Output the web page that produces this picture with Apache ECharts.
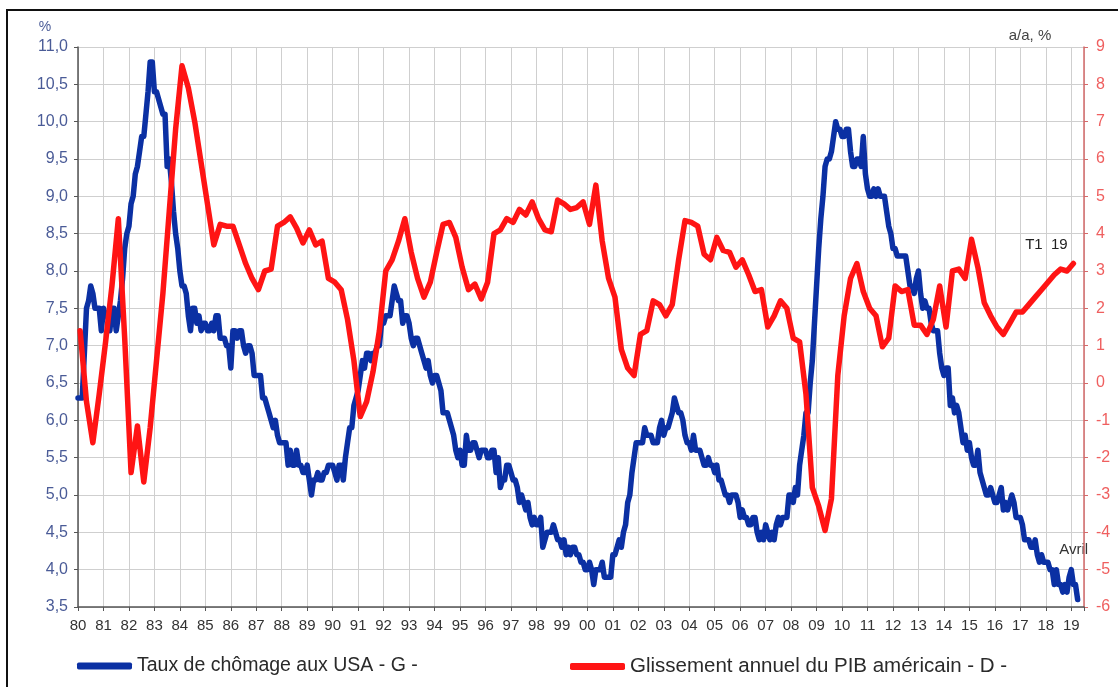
<!DOCTYPE html>
<html>
<head>
<meta charset="utf-8">
<script src="https://cdn.jsdelivr.net/npm/echarts@6/dist/echarts.min.js"></script>
<style>
html,body{margin:0;padding:0;background:#fff;}
#c{width:1118px;height:687px;}
</style>
</head>
<body>
<div id="c"></div>
<script>
// Taux de chômage USA, mensuel, janv. 1980 -> avril 2019 (%)
const chomage = [
6.3,6.3,6.3,6.9,7.5,7.6,7.8,7.7,7.5,7.5,7.5,7.2,
7.5,7.4,7.4,7.2,7.5,7.5,7.2,7.4,7.6,7.9,8.3,8.5,
8.6,8.9,9.0,9.3,9.4,9.6,9.8,9.8,10.1,10.4,10.8,10.8,
10.4,10.4,10.3,10.2,10.1,10.1,9.4,9.5,9.2,8.8,8.5,8.3,
8.0,7.8,7.8,7.7,7.4,7.2,7.5,7.5,7.3,7.4,7.2,7.3,
7.3,7.2,7.2,7.3,7.2,7.4,7.4,7.1,7.1,7.1,7.0,7.0,
6.7,7.2,7.2,7.1,7.2,7.2,7.0,6.9,7.0,7.0,6.9,6.6,
6.6,6.6,6.6,6.3,6.3,6.2,6.1,6.0,5.9,6.0,5.8,5.7,
5.7,5.7,5.7,5.4,5.6,5.4,5.4,5.6,5.4,5.4,5.3,5.3,
5.4,5.2,5.0,5.2,5.2,5.3,5.2,5.2,5.3,5.3,5.4,5.4,
5.4,5.3,5.2,5.4,5.4,5.2,5.5,5.7,5.9,5.9,6.2,6.3,
6.4,6.6,6.8,6.7,6.9,6.9,6.8,6.9,6.9,7.0,7.0,7.3,
7.3,7.4,7.4,7.4,7.6,7.8,7.7,7.6,7.6,7.3,7.4,7.4,
7.3,7.1,7.0,7.1,7.1,7.0,6.9,6.8,6.7,6.8,6.6,6.5,
6.6,6.6,6.5,6.4,6.1,6.1,6.1,6.0,5.9,5.8,5.6,5.5,
5.6,5.4,5.4,5.8,5.6,5.6,5.7,5.7,5.6,5.5,5.6,5.6,
5.6,5.5,5.5,5.6,5.6,5.3,5.5,5.1,5.2,5.2,5.4,5.4,
5.3,5.2,5.2,5.1,4.9,5.0,4.9,4.8,4.9,4.7,4.6,4.7,
4.6,4.6,4.7,4.3,4.4,4.5,4.5,4.5,4.6,4.5,4.4,4.4,
4.3,4.4,4.2,4.3,4.2,4.3,4.3,4.2,4.2,4.1,4.1,4.0,
4.0,4.1,4.0,3.8,4.0,4.0,4.0,4.1,3.9,3.9,3.9,3.9,
4.2,4.2,4.3,4.4,4.3,4.5,4.6,4.9,5.0,5.3,5.5,5.7,
5.7,5.7,5.7,5.9,5.8,5.8,5.8,5.7,5.7,5.7,5.9,6.0,
5.8,5.9,5.9,6.0,6.1,6.3,6.2,6.1,6.1,6.0,5.8,5.7,
5.7,5.6,5.8,5.6,5.6,5.6,5.5,5.4,5.4,5.5,5.4,5.4,
5.3,5.4,5.2,5.2,5.1,5.0,5.0,4.9,5.0,5.0,5.0,4.9,
4.7,4.8,4.7,4.7,4.6,4.6,4.7,4.7,4.5,4.4,4.5,4.4,
4.6,4.5,4.4,4.5,4.4,4.6,4.7,4.6,4.7,4.7,4.7,5.0,
5.0,4.9,5.1,5.0,5.4,5.6,5.8,6.1,6.1,6.5,6.8,7.3,
7.8,8.3,8.7,9.0,9.4,9.5,9.5,9.6,9.8,10.0,9.9,9.9,
9.8,9.8,9.9,9.9,9.6,9.4,9.4,9.5,9.5,9.4,9.8,9.3,
9.1,9.0,9.0,9.1,9.0,9.1,9.0,9.0,9.0,8.8,8.6,8.5,
8.3,8.3,8.2,8.2,8.2,8.2,8.2,8.0,7.8,7.8,7.7,7.9,
8.0,7.7,7.5,7.6,7.5,7.5,7.3,7.2,7.2,7.2,6.9,6.7,
6.6,6.7,6.7,6.2,6.3,6.1,6.2,6.1,5.9,5.7,5.8,5.6,
5.7,5.5,5.4,5.4,5.6,5.3,5.2,5.1,5.0,5.0,5.1,5.0,
4.9,4.9,5.0,5.1,4.8,4.9,4.8,4.9,5.0,4.9,4.7,4.7,
4.7,4.6,4.4,4.4,4.4,4.3,4.3,4.4,4.2,4.1,4.2,4.1,
4.1,4.1,4.0,4.0,3.8,4.0,3.8,3.8,3.7,3.8,3.7,3.9,
4.0,3.8,3.8,3.6
];
// Glissement annuel du PIB américain, trimestriel, T1 1980 -> T1 2019 (a/a, %)
const pib = [
1.4,-0.5,-1.6,-0.3,
1.1,2.6,4.4,1.2,
-2.4,-1.15,-2.65,-1.2,
0.6,2.4,4.6,6.8,
8.5,7.9,7.0,5.9,
4.8,3.7,4.25,4.2,
4.2,3.7,3.2,2.8,
2.5,3.0,3.05,4.2,
4.3,4.45,4.15,3.75,
4.1,3.7,3.8,2.8,
2.7,2.5,1.7,0.6,
-0.9,-0.5,0.3,1.4,
3.0,3.3,3.8,4.4,
3.5,2.8,2.3,2.7,
3.5,4.25,4.3,3.9,
3.1,2.5,2.65,2.25,
2.7,4.0,4.1,4.4,
4.3,4.65,4.5,4.85,
4.4,4.1,4.05,4.9,
4.8,4.65,4.7,4.85,
4.25,5.3,3.8,2.8,
2.3,0.9,0.4,0.2,
1.3,1.4,2.2,2.1,
1.8,2.1,3.3,4.35,
4.3,4.2,3.45,3.3,
3.9,3.55,3.5,3.1,
3.3,2.9,2.45,2.5,
1.5,1.8,2.2,2.0,
1.2,1.1,-0.3,-2.8,
-3.3,-3.95,-3.1,0.2,
1.8,2.8,3.2,2.45,
2.0,1.8,0.97,1.2,
2.6,2.45,2.5,1.55,
1.55,1.3,1.7,2.6,
1.5,3.0,3.05,2.8,
3.85,3.1,2.15,1.8,
1.5,1.3,1.6,1.9,
1.9,2.1,2.3,2.5,
2.7,2.9,3.05,3.0,
3.2
];
const startYear = 1980;
const leftTicks = {min: 3.5, max: 11, step: 0.5};
const rightTicks = {min: -6, max: 9, step: 1};
const names = ['Taux de chômage aux USA - G -', 'Glissement annuel du PIB américain - D -'];
const labels = {left: '%', right: 'a/a, %', gdp: 'T1  19', unemp: 'Avril'};

const blueData = chomage.map((v, i) => [startYear + i / 12, v]);
const redData = pib.map((v, i) => [startYear + i / 4 + 1 / 12, v]);

const BLUE = '#0b30a3';
const RED = '#ff1414';
const FONT = 'Liberation Sans, Arial, sans-serif';

const chart = echarts.init(document.getElementById('c'), null, {renderer: 'canvas'});
const option = {
  animation: false,
  backgroundColor: '#fff',
  grid: {left: 78, right: 34, top: 47, bottom: 80},
  legend: [
    {data: [names[0]], left: 72, top: 651, icon: 'roundRect', itemWidth: 55, itemHeight: 7,
     textStyle: {fontSize: 19.5, color: '#2a2a2a', fontFamily: FONT}},
    {data: [names[1]], left: 565, top: 651, icon: 'roundRect', itemWidth: 55, itemHeight: 7,
     textStyle: {fontSize: 20.5, color: '#2a2a2a', fontFamily: FONT}}
  ],
  xAxis: {
    type: 'value', min: startYear, max: 2019.5, interval: 1,
    axisLine: {show: true, onZero: false, lineStyle: {color: '#555', width: 1.5}},
    axisTick: {show: true, length: 4, lineStyle: {color: '#555'}},
    axisLabel: {
      margin: 11, fontSize: 15, color: '#333', fontFamily: FONT,
      formatter: v => Number.isInteger(v) ? String(v).slice(2) : ''
    },
    splitLine: {show: true, lineStyle: {color: '#cfcfcf', width: 1}}
  },
  yAxis: [
    {
      type: 'value', min: leftTicks.min, max: leftTicks.max, interval: leftTicks.step,
      axisLine: {show: true, lineStyle: {color: '#555', width: 1.5}},
      axisTick: {show: true, length: 4, lineStyle: {color: '#555'}},
      axisLabel: {margin: 10, fontSize: 16, color: '#4a5b97', fontFamily: FONT,
        formatter: v => v.toFixed(1).replace('.', ',')},
      splitLine: {show: true, lineStyle: {color: '#cfcfcf', width: 1}}
    },
    {
      type: 'value', min: rightTicks.min, max: rightTicks.max, interval: rightTicks.step,
      position: 'right',
      axisLine: {show: true, lineStyle: {color: '#d46a6a', width: 1.5}},
      axisTick: {show: true, length: 4, lineStyle: {color: '#d46a6a'}},
      axisLabel: {margin: 12, fontSize: 16, color: '#ef5f5f', fontFamily: FONT},
      splitLine: {show: false}
    }
  ],
  series: [
    {name: names[0], type: 'line', data: blueData, yAxisIndex: 0, showSymbol: false,
     symbol: 'none', color: BLUE, lineStyle: {color: BLUE, width: 5.5, join: 'round', cap: 'round'}, z: 2},
    {name: names[1], type: 'line', data: redData, yAxisIndex: 1, showSymbol: false,
     symbol: 'none', color: RED, lineStyle: {color: RED, width: 5.5, join: 'round', cap: 'round'}, z: 3}
  ]
};
chart.setOption(option);

const lastBlue = chart.convertToPixel({xAxisIndex: 0, yAxisIndex: 0}, blueData[blueData.length - 1]);
const lastRed = chart.convertToPixel({xAxisIndex: 0, yAxisIndex: 1}, redData[redData.length - 1]);
const gridTopRight = chart.convertToPixel({xAxisIndex: 0, yAxisIndex: 1}, [2019.5, rightTicks.max]);
const gridTopLeft = chart.convertToPixel({xAxisIndex: 0, yAxisIndex: 0}, [startYear, leftTicks.max]);

chart.setOption({
  graphic: [
    {type: 'rect', shape: {x: 7, y: 10, width: 1200, height: 800},
     style: {fill: 'none', stroke: '#111', lineWidth: 2}, silent: true, z: 100},
    {type: 'text', x: gridTopLeft[0] - 33, y: gridTopLeft[1] - 20,
     style: {text: labels.left, fontSize: 14, fill: '#4a5b97', fontFamily: FONT, textAlign: 'center', textVerticalAlign: 'middle'}},
    {type: 'text', x: gridTopRight[0] - 54, y: gridTopRight[1] - 11,
     style: {text: labels.right, fontSize: 15, fill: '#444', fontFamily: FONT, textAlign: 'center', textVerticalAlign: 'middle'}},
    {type: 'text', x: lastRed[0] - 27, y: lastRed[1] - 19,
     style: {text: labels.gdp, fontSize: 15, fill: '#222', fontFamily: FONT, textAlign: 'center', textVerticalAlign: 'middle'}},
    {type: 'text', x: lastBlue[0] - 4, y: lastBlue[1] - 50,
     style: {text: labels.unemp, fontSize: 15, fill: '#333', fontFamily: FONT, textAlign: 'center', textVerticalAlign: 'middle'}}
  ]
});
</script>
</body>
</html>
